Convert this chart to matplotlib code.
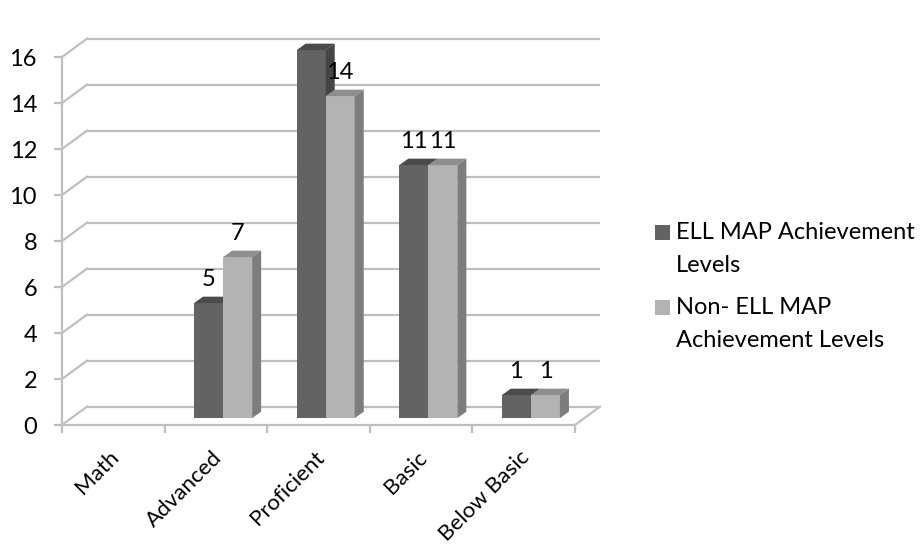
import numpy as np
import matplotlib.pyplot as plt
from matplotlib.patches import Polygon, Rectangle

plt.rcParams['font.family'] = ['Lato', 'DejaVu Sans']

categories = ['Math', 'Advanced', 'Proficient', 'Basic', 'Below Basic']
ell = [None, 5, 16, 11, 1]
non_ell = [None, 7, 14, 11, 1]
series_names = ['ELL MAP Achievement\nLevels', 'Non- ELL MAP\nAchievement Levels']
yticks = list(range(0, 17, 2))

W, H = 922, 546
fig = plt.figure(figsize=(W / 100, H / 100), dpi=100)
ax = fig.add_axes([62 / W, 121 / H, 513 / W, 368 / H])
ax.set_xlim(0, 5)
ax.set_ylim(0, 16)

# depth of the back wall and of the bars, in data units
wall_dx, wall_dy = 0.244, 0.80
bar_ox, bar_oy = 0.07, 0.30
bar_dx, bar_dy = 0.088, 0.28
bar_w = 0.283

grid_c = '#bfbfbf'
for y in yticks:
    ax.plot([wall_dx, 5 + wall_dx], [y + wall_dy, y + wall_dy], color=grid_c,
            lw=1.6, clip_on=False, zorder=1, solid_capstyle='butt')
    ax.plot([0, wall_dx], [y, y + wall_dy], color=grid_c, lw=1.6,
            clip_on=False, zorder=1)
# right edge of the floor
ax.plot([5, 5 + wall_dx], [0, wall_dy], color=grid_c, lw=1.6, clip_on=False, zorder=1)

colors = [
    ('#636363', '#4b4b4b', '#454545'),   # front, top, side
    ('#b3b3b3', '#8e8e8e', '#7d7d7d'),
]


def draw_bar(x0, v, cols):
    front, top, side = cols
    x1 = x0 + bar_w
    y0, y1 = bar_oy, v + bar_oy
    ax.add_patch(Polygon([(x0, y0), (x1, y0), (x1, y1), (x0, y1)], closed=True,
                         fc=front, ec='none', clip_on=False, zorder=3))
    ax.add_patch(Polygon([(x0, y1), (x1, y1), (x1 + bar_dx, y1 + bar_dy),
                          (x0 + bar_dx, y1 + bar_dy)], closed=True,
                         fc=top, ec='none', clip_on=False, zorder=3))
    ax.add_patch(Polygon([(x1, y0), (x1, y1), (x1 + bar_dx, y1 + bar_dy),
                          (x1 + bar_dx, y0 + bar_dy)], closed=True,
                         fc=side, ec='none', clip_on=False, zorder=3))
    ax.annotate(str(v), xy=(x0 + bar_w / 2, y1), xytext=(0, 17),
                textcoords='offset points', ha='center', va='center',
                fontsize=17, color='black', zorder=5)


for i, (a, b) in enumerate(zip(ell, non_ell)):
    c = i + 0.5 + bar_ox
    if a is not None:
        draw_bar(c - bar_w, a, colors[0])
    if b is not None:
        draw_bar(c, b, colors[1])

for s in ['top', 'right']:
    ax.spines[s].set_visible(False)
for s in ['left', 'bottom']:
    ax.spines[s].set_color(grid_c)
    ax.spines[s].set_linewidth(1.6)
    ax.spines[s].set_zorder(2)

ax.set_yticks(yticks)
ax.tick_params(axis='y', length=6, width=1.6, color=grid_c, labelsize=17, pad=12)
ax.set_xticks(range(6))
ax.set_xticklabels([])
ax.tick_params(axis='x', length=6, width=1.6, color=grid_c)

for i, name in enumerate(categories):
    ax.annotate(name, xy=(i + 0.5, 0), xytext=(2, -21), textcoords='offset points',
                rotation=45, ha='right', va='center', rotation_mode='anchor',
                fontsize=16, annotation_clip=False)

# legend
for k, (name, cols) in enumerate(zip(series_names, colors)):
    yc = 232 + 75 * k
    fig.patches.append(Rectangle((655 / W, 1 - (yc + 7.5) / H), 15 / W, 15 / H,
                                 transform=fig.transFigure, fc=cols[0], ec='none'))
    fig.text(676 / W, 1 - (yc - 10) / H, name, fontsize=17, va='top', ha='left',
             linespacing=1.7)

fig.savefig('out.png', dpi=100)
